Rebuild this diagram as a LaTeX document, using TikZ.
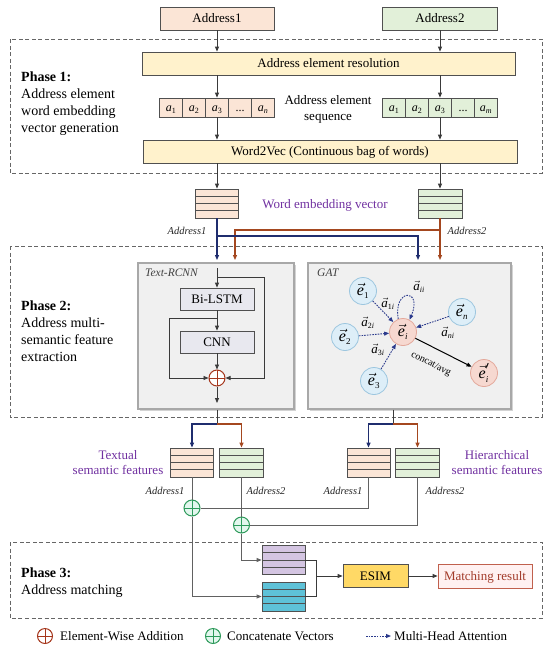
\documentclass[tikz,border=0pt]{standalone}
\usepackage{fontspec}
\setmainfont{Liberation Serif}
\usetikzlibrary{arrows.meta,calc,shadows}
\definecolor{peach}{HTML}{FBE5D6}
\definecolor{lgreen}{HTML}{E2F0D9}
\definecolor{yel}{HTML}{FFF2CC}
\definecolor{boxline}{HTML}{505050}
\definecolor{navy}{HTML}{1F2D6E}
\definecolor{rbrown}{HTML}{A4471F}
\definecolor{panelfill}{HTML}{F0F0F0}
\definecolor{panelline}{HTML}{A8A8A8}
\definecolor{innerfill}{HTML}{E8E8EF}
\definecolor{bnfill}{HTML}{DDEEF8}
\definecolor{bnline}{HTML}{9CC6DF}
\definecolor{pnfill}{HTML}{F6D8D0}
\definecolor{pnline}{HTML}{E3A89B}
\definecolor{attc}{HTML}{2B3A8C}
\definecolor{purp}{HTML}{7030A0}
\definecolor{violetst}{HTML}{D4C5E2}
\definecolor{cyanst}{HTML}{5EC2D8}
\definecolor{esimc}{HTML}{FFD966}
\definecolor{matchfill}{HTML}{FFF1F1}
\definecolor{matchline}{HTML}{C0604D}
\definecolor{matchtext}{HTML}{A23B2A}
\definecolor{opred}{HTML}{A5361C}
\definecolor{opgreen}{HTML}{2E9A5B}
\definecolor{mint}{HTML}{E3F7EE}
\definecolor{phasec}{HTML}{666666}
\definecolor{linec}{HTML}{3A3A3A}
\newcommand\myfs[1]{\fontsize{#1}{#1}\selectfont}
\newcommand\ve[2]{$\vec{\mbox{\itshape e}}_{\mbox{\myfs{9}#1}}#2$}
\newcommand\va[1]{$\vec{\mbox{\itshape a}}_{\mbox{\myfs{8}#1}}$}
\newcommand\sa[1]{\textit{a}\textsubscript{#1}}
\begin{document}
\begin{tikzpicture}[x=1pt,y=-1pt,
  tri/.style={-{Triangle[length=5pt,width=4pt]}},
  arr/.style={tri, draw=linec, line width=0.8pt},
  plain/.style={draw=linec, line width=0.8pt},
  gline/.style={draw=linec!80, line width=0.8pt},
  blu/.style={tri, draw=navy, line width=1.1pt},
  redl/.style={tri, draw=rbrown, line width=1.1pt},
  box/.style={draw=boxline, line width=0.8pt, inner sep=0pt, text height=8.8pt, text depth=0pt, font=\myfs{13}},
  ybox/.style={box, fill=yel, minimum height=23pt},
  cell/.style={box, minimum width=23pt, minimum height=19pt, font=\myfs{12}},
  vec/.style={draw=boxline, line width=0.8pt, inner sep=0pt, minimum width=43pt, minimum height=29pt,
    path picture={\foreach \f in {0.25,0.5,0.75}{\draw[boxline, line width=0.8pt]
      ($(path picture bounding box.north west)!\f!(path picture bounding box.south west)$) --
      ($(path picture bounding box.north east)!\f!(path picture bounding box.south east)$);}}},
  phase/.style={draw=phasec, line width=0.9pt, dash pattern=on 4pt off 2.5pt},
  ptxt/.style={anchor=base west, inner sep=0pt, font=\myfs{14}},
  lab/.style={anchor=base, inner sep=0pt, font=\myfs{10.5}\itshape, text=black!85},
  purtxt/.style={anchor=base, inner sep=0pt, font=\myfs{13}, text=purp},
  panel/.style={draw=panelline, line width=1.2pt, fill=panelfill,
    drop shadow={shadow xshift=1.5pt, shadow yshift=-1.5pt, opacity=0.35}},
  ibox/.style={box, fill=innerfill, minimum width=74pt, minimum height=22pt},
  opl/.style={circle, draw=#1, line width=1pt, minimum size=16pt, inner sep=0pt,
    path picture={\draw[#1, line width=1pt] (path picture bounding box.north) -- (path picture bounding box.south)
      (path picture bounding box.west) -- (path picture bounding box.east);}},
  bnode/.style={circle, draw=bnline, fill=bnfill, line width=0.8pt, minimum size=27pt, inner sep=0pt, font=\myfs{16}},
  pnode/.style={circle, draw=pnline, fill=pnfill, line width=0.8pt, minimum size=27pt, inner sep=0pt, font=\myfs{16}},
  att/.style={draw=attc, line width=0.9pt, dash pattern=on 1.6pt off 1.1pt, -{Triangle[length=5pt,width=4pt]}},
  alab/.style={inner sep=0pt, font=\myfs{13}}
]
\useasboundingbox (0,0) rectangle (550,649);

% ---------------- Phase frames
\draw[phase] (10,39) rectangle (542,173);
\draw[phase] (10,246) rectangle (542,417);
\draw[phase] (10,542) rectangle (542,618);

% Phase texts
\node[ptxt] at (21,81) {\textbf{Phase 1:}};
\node[ptxt] at (21,98) {Address element};
\node[ptxt] at (21,115) {word embedding};
\node[ptxt] at (21,132) {vector generation};
\node[ptxt] at (21,310) {\textbf{Phase 2:}};
\node[ptxt] at (21,327) {Address multi-};
\node[ptxt] at (21,344) {semantic feature};
\node[ptxt] at (21,361) {extraction};
\node[ptxt] at (21,577) {\textbf{Phase 3:}};
\node[ptxt] at (21,594) {Address matching};

% ---------------- Phase 1
\node[box, fill=peach, minimum width=114pt, minimum height=23pt] (A1) at (217,18.5) {Address1};
\node[box, fill=lgreen, minimum width=115pt, minimum height=23pt] (A2) at (440,18.5) {Address2};
\node[ybox, minimum width=373pt] (res) at (328.5,63.5) {Address element resolution};

\node[cell, fill=peach] (s11) at (171,107.5) {\sa{1}};
\node[cell, fill=peach] (s12) at (194,107.5) {\sa{2}};
\node[cell, fill=peach] (s13) at (217,107.5) {\sa{3}};
\node[cell, fill=peach] (s14) at (240,107.5) {...};
\node[cell, fill=peach] (s15) at (263,107.5) {\textit{a}\textsubscript{\textit{n}}};
\node[cell, fill=lgreen] (s21) at (394,107.5) {\sa{1}};
\node[cell, fill=lgreen] (s22) at (417,107.5) {\sa{2}};
\node[cell, fill=lgreen] (s23) at (440,107.5) {\sa{3}};
\node[cell, fill=lgreen] (s24) at (463,107.5) {...};
\node[cell, fill=lgreen] (s25) at (486,107.5) {\textit{a}\textsubscript{\textit{m}}};
\node[anchor=base, inner sep=0pt, font=\myfs{13}] (seqt1) at (328,104.5) {Address element};
\node[anchor=base, inner sep=0pt, font=\myfs{13}] (seqt2) at (328,120.5) {sequence};

\node[ybox, minimum width=374pt] (w2v) at (330,151.5) {Word2Vec (Continuous bag of words)};

\node[vec, fill=peach] (WL) at (217,203.5) {};
\node[vec, fill=lgreen, minimum width=44pt] (WR) at (440,203.5) {};
\node[purtxt] (wev) at (325,208) {Word embedding vector};
\node[lab] (wl1) at (187,234.5) {Address1};
\node[lab] (wl2) at (467,234.5) {Address2};

\draw[arr] (A1.south) -- (A1.south |- res.north);
\draw[arr] (A2.south) -- (A2.south |- res.north);
\draw[arr] (s13.south |- res.south) -- (s13.north);
\draw[arr] (s23.south |- res.south) -- (s23.north);
\draw[arr] (s13.south) -- (s13.south |- w2v.north);
\draw[arr] (s23.south) -- (s23.south |- w2v.north);
\draw[arr] (WL.north |- w2v.south) -- (WL.north);
\draw[arr] (WR.north |- w2v.south) -- (WR.north);

% ---------------- Phase 2 panels
\node[panel, minimum width=156pt, minimum height=146pt, inner sep=0pt] (rcnn) at (216,336) {};
\node[panel, minimum width=203pt, minimum height=146pt, inner sep=0pt] (gat) at (409.5,336) {};
\node[anchor=west, inner sep=0pt, font=\myfs{11.5}\itshape, text=black!75] (rcnnl) at (145,273) {Text-RCNN};
\node[anchor=west, inner sep=0pt, font=\myfs{11.5}\itshape, text=black!75] (gatl) at (317,273) {GAT};

% routing into Phase 2
\coordinate (rb) at (217,260);
\coordinate (rr) at (235,260);
\coordinate (gb) at (418,260);
\coordinate (gr) at (440,260);
\draw[redl] (WR.south |- 0,230) -| (rr);
\draw[redl] (WR.south) -- (gr);
\draw[blu] (WL.south |- 0,236) -| (gb);
\draw[blu] (WL.south) -- (rb);

% Text-RCNN inner
\node[ibox] (bil) at (217,299) {Bi-LSTM};
\node[ibox] (cnn) at (217,342) {CNN};
\node[opl=opred, fill=white] (op) at (217,378) {};
\coordinate (tin) at (217,268);
\coordinate (lr) at (264,277);
\coordinate (ll) at (169,318);
\coordinate (rout) at (217,403);
\draw[arr] (tin) -- (bil.north);
\draw[arr] (tin |- lr) -- (lr) |- (op.east);
\draw[arr] (bil.south) -- (cnn.north);
\draw[arr] (bil.south |- ll) -- (ll) |- (op.west);
\draw[arr] (cnn.south) -- (op.north);
\draw[arr] (op.south) -- (rout);

% GAT inner
\node[bnode] (e1) at (363,291) {\ve{1}{}};
\node[bnode] (e2) at (345,337) {\ve{2}{}};
\node[bnode] (e3) at (374,381) {\ve{3}{}};
\node[bnode] (en) at (462,312) {\ve{\itshape n}{}};
\node[pnode] (ei) at (403,332) {\ve{\itshape i}{}};
\node[pnode] (eip) at (484,373) {\ve{\itshape i}{^{\prime}}};
\draw[att] (e1) -- (ei);
\draw[att] (e2) -- (ei);
\draw[att] (e3) -- (ei);
\draw[att] (en) -- (ei);
\draw[att] (ei.110) .. controls (393,288) and (423,288) .. (ei.62);
\draw[arr, draw=black, line width=1pt] (ei) -- (eip);
\node[inner sep=0pt, font=\myfs{10}, rotate=-27] (cav) at (431,364) {concat/avg};
\node[alab] (a1i) at (388,304) {\va{1\itshape i}};
\node[alab] (aii) at (419,287) {\va{\itshape ii}};
\node[alab] (a2i) at (368,323) {\va{2\itshape i}};
\node[alab] (a3i) at (378,350) {\va{3\itshape i}};
\node[alab] (ani) at (448,333) {\va{\itshape ni}};

% ---------------- outputs of Phase 2
\node[vec, fill=peach] (T1) at (192,462.5) {};
\node[vec, fill=lgreen, minimum width=44pt] (T2) at (241.5,462.5) {};
\node[vec, fill=peach] (H1) at (368.5,462.5) {};
\node[vec, fill=lgreen, minimum width=44pt] (H2) at (417.5,462.5) {};
\coordinate (tj) at (217,424);
\coordinate (gj) at (393,424);
\draw[plain] (op |- rcnn.south) -- (tj);
\draw[plain] (gj |- gat.south) -- (gj);
\draw[blu] (tj) -| (T1.north);
\draw[redl] (tj) -| (T2.north);
\draw[blu] (gj) -| (H1.north);
\draw[redl] (gj) -| (H2.north);

\node[purtxt] (tx1) at (118,459.5) {Textual};
\node[purtxt] (tx2) at (118,474.5) {semantic features};
\node[purtxt] (hx1) at (497,459.5) {Hierarchical};
\node[purtxt] (hx2) at (497,474.5) {semantic features};
\node[lab] (lt1) at (165,494) {Address1};
\node[lab] (lt2) at (266,494) {Address2};
\node[lab] (lh1) at (343,494) {Address1};
\node[lab] (lh2) at (445,494) {Address2};

% ---------------- concatenation
\node[opl=opgreen, fill=mint] (c1) at (192,508) {};
\node[opl=opgreen, fill=mint] (c2) at (241.5,525) {};
\node[vec, fill=violetst] (pu) at (283.5,560) {};
\node[vec, fill=cyanst] (cy) at (283.5,596.5) {};
\draw[gline] (T1.south) -- (c1.north);
\draw[gline] (c1.east) -| (H1.south);
\draw[gline] (T2.south) -- (c2.north);
\draw[gline] (c2.east) -| (H2.south);
\draw[arr, draw=linec!80] (c1.south) |- (cy.west);
\draw[arr, draw=linec!80] (c2.south) |- (pu.west);

\node[box, fill=esimc, minimum width=65pt, minimum height=23pt] (esim) at (375.5,576) {ESIM};
\node[box, draw=matchline, fill=matchfill, text=matchtext, minimum width=94pt, minimum height=24pt] (match) at (485,576) {Matching result};
\coordinate (mg) at (316,576);
\draw[plain] (pu.east) -| (mg);
\draw[plain] (cy.east) -| (mg);
\draw[arr] (mg) -- (esim.west);
\draw[arr] (esim.east) -- (match.west);

% ---------------- legend
\node[opl=opred, minimum size=15pt] (lg1) at (45,636) {};
\node[anchor=base west, inner sep=0pt, font=\myfs{13}] (lg1t) at (60,640.3) {Element-Wise Addition};
\node[opl=opgreen, fill=mint, minimum size=15pt] (lg2) at (213,636) {};
\node[anchor=base west, inner sep=0pt, font=\myfs{13}] (lg2t) at (227,640.3) {Concatenate Vectors};
\coordinate (lg3a) at (366,636);
\coordinate (lg3b) at (391,636);
\draw[att] (lg3a) -- (lg3b);
\node[anchor=base west, inner sep=0pt, font=\myfs{13}] (lg3t) at (394,640.3) {Multi-Head Attention};
\end{tikzpicture}
\end{document}
